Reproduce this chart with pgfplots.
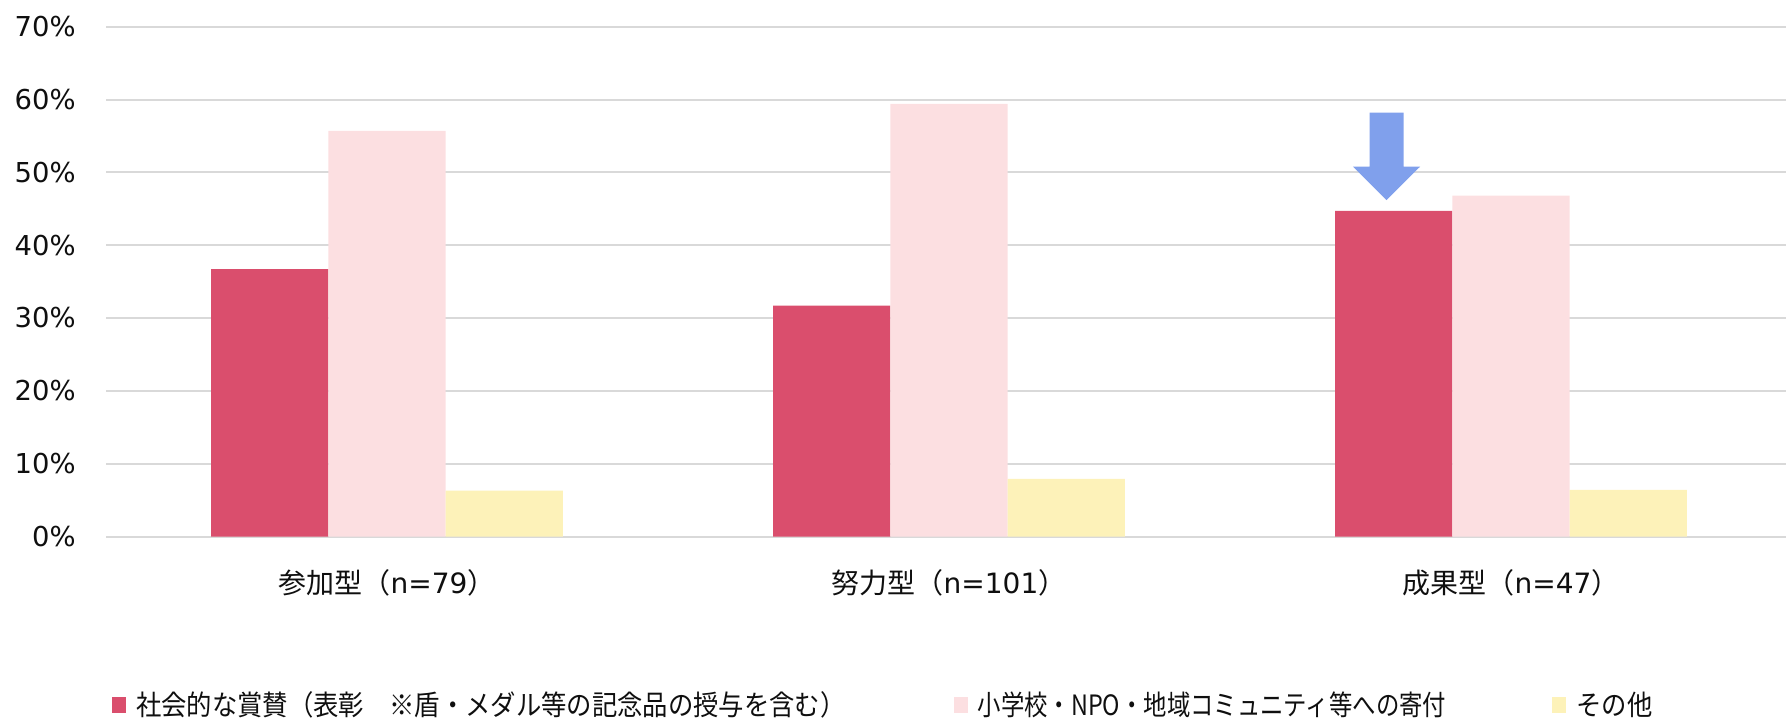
\documentclass[border=0pt]{standalone}
\usepackage{fontspec}
\setmainfont{DejaVu Sans}
\newfontfamily\jp{Noto Sans CJK JP}
\newfontfamily\jpa[FakeStretch=0.905]{Noto Sans CJK JP}
\newfontfamily\jpb[FakeStretch=0.835]{Noto Sans CJK JP}
\usepackage{pgfplots}
\pgfplotsset{compat=1.18}
\definecolor{cRed}{RGB}{218,78,109}
\definecolor{cPink}{RGB}{252,223,225}
\definecolor{cYellow}{RGB}{253,242,185}
\definecolor{cArrow}{RGB}{128,160,236}
\definecolor{cGrid}{RGB}{217,217,217}
\definecolor{cText}{RGB}{15,15,15}
\begin{document}
\begin{tikzpicture}
\begin{axis}[
  scale only axis, width=843pt, height=254.9pt,
  xmin=-0.5, xmax=2.5, ymin=0, ymax=70,
  enlargelimits=false,
  ybar=0pt, bar width=58.6pt,
  xtick={0,1,2},
  xticklabels={{\jp 参加型（}n=79{\jp ）},{\jp 努力型（}n=101{\jp ）},{\jp 成果型（}n=47{\jp ）}},
  ytick={0,10,20,30,40,50,60,70},
  yticklabels={0\%,10\%,20\%,30\%,40\%,50\%,60\%,70\%},
  ymajorgrids, major grid style={draw=cGrid, line width=1pt},
  axis line style={draw=none}, major tick length=0pt,
  tick label style={font=\fontsize{13.7}{16}\selectfont, text=cText},
  yticklabel style={anchor=east, inner sep=0pt, xshift=-15pt},
  xticklabel style={anchor=center, inner sep=0pt, yshift=-23pt, font=\fontsize{14}{16}\selectfont},
  clip=false,
  legend columns=3,
  legend cell align=left,
  legend style={draw=none, fill=none, inner sep=0pt, at={(0,0)}, anchor=west,
    xshift=2.85pt, yshift=-84.25pt, text=cText,
    font=\fontsize{14}{16}\selectfont, nodes={inner sep=0pt},
    /tikz/every odd column/.append style={column sep=5pt}},
]
\addplot[fill=cRed, draw=none, legend image code/.code={\fill[cRed] (0pt,-4pt) rectangle (7pt,4pt);}]
  coordinates {(0,36.7) (1,31.7) (2,44.7)};
\addlegendentry{\makebox[408.8pt][l]{\jpa 社会的な賞賛（表彰　※盾・メダル等の記念品の授与を含む）}}
\addplot[fill=cPink, draw=none, legend image code/.code={\fill[cPink] (0pt,-4pt) rectangle (7pt,4pt);}]
  coordinates {(0,55.7) (1,59.4) (2,46.8)};
\addlegendentry{\makebox[287.35pt][l]{\jpb 小学校・NPO・地域コミュニティ等への寄付}}
\addplot[fill=cYellow, draw=none, legend image code/.code={\fill[cYellow] (0pt,-4pt) rectangle (7pt,4pt);}]
  coordinates {(0,6.3) (1,7.9) (2,6.4)};
\addlegendentry{\jpa その他}
\fill[cArrow] ([xshift=-70.75pt]axis cs:2,58.2) -- ([xshift=-53.75pt]axis cs:2,58.2)
  -- ([xshift=-53.75pt]axis cs:2,50.8) -- ([xshift=-45.4pt]axis cs:2,50.8)
  -- ([xshift=-62.25pt]axis cs:2,46.2) -- ([xshift=-79.1pt]axis cs:2,50.8)
  -- ([xshift=-70.75pt]axis cs:2,50.8) -- cycle;
\end{axis}
\pgfresetboundingbox
\path[use as bounding box] (-53pt,-90.25pt) rectangle (840pt,268.25pt);
\end{tikzpicture}
\end{document}
